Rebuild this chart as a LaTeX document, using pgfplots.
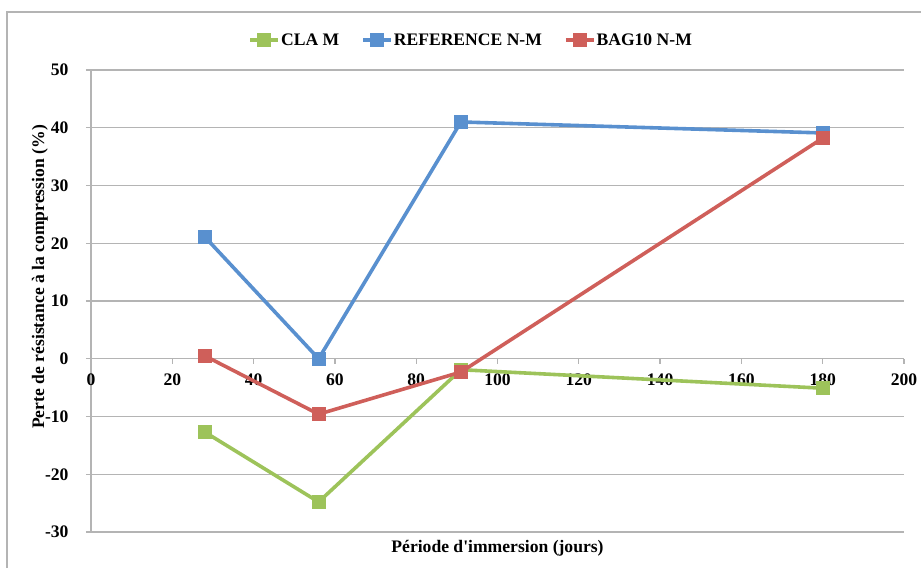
\documentclass[border=0pt]{standalone}
\usepackage{fontspec}
\setmainfont{Liberation Serif}
\usepackage{pgfplots}
\pgfplotsset{compat=1.18}
\definecolor{cgreen}{RGB}{157,195,90}
\definecolor{cblue}{RGB}{89,144,207}
\definecolor{cred}{RGB}{207,95,90}
\definecolor{gridgray}{RGB}{180,180,180}
\newcommand{\fnt}{\fontsize{17.6}{21}\selectfont\bfseries}
\begin{document}
\begin{tikzpicture}[x=1pt,y=1pt]
\useasboundingbox (0,0) rectangle (921,568);
\draw[color=gridgray, line width=1.3pt] (7,0) -- (7,556) -- (921,556);
\begin{axis}[at={(91pt,36pt)}, anchor=south west, scale only axis,
  width=813pt, height=462pt,
  xmin=0, xmax=200, ymin=-30, ymax=50,
  axis x line=middle, axis y line=left,
  axis line style={-, draw=gridgray, line width=1.3pt},
  hide obscured x ticks=false, hide obscured y ticks=false,
  xtick={0,20,...,200}, ytick={-30,-20,...,50},
  ymajorgrids, grid style={gridgray, line width=1.3pt},
  tick align=outside, major tick length=5pt,
  tick style={gridgray, line width=1.3pt},
  /pgf/number format/assume math mode=true,
  ticklabel style={font=\fnt},
  yticklabel style={xshift=-14pt},
  xticklabel style={yshift=-7pt},
  label style={font=\fnt},
  xlabel={Période d\textquotesingle immersion (jours)},
  ylabel={Perte de résistance à la compression (\%)},
  xlabel style={at={(axis description cs:0.5,-0.035)}, anchor=center},
  ylabel style={at={(axis description cs:-0.063,0.552)}, anchor=center},
  legend style={at={(axis description cs:0.467,1.065)}, anchor=center,
    draw=none, fill=none, font=\fnt, nodes={inner xsep=1pt},
    /tikz/every even column/.append style={column sep=21pt}},
  legend columns=3,
  legend image code/.code={\draw[mark repeat=2,mark phase=2,#1] plot coordinates {(0pt,0pt) (14pt,0pt) (28pt,0pt)};},
  every axis plot/.append style={line width=3.6pt, mark=square*, mark size=5.2pt, mark options={solid}},
]
\addplot[color=cgreen] coordinates {(28,-12.7) (56,-24.8) (91,-1.9) (180,-5.1)};
\addlegendentry{CLA M}
\addplot[color=cblue] coordinates {(28,21.1) (56,0) (91,41) (180,39.1)};
\addlegendentry{REFERENCE N-M}
\addplot[color=cred] coordinates {(28,0.5) (56,-9.6) (91,-2.3) (180,38.2)};
\addlegendentry{BAG10 N-M}
\end{axis}
\end{tikzpicture}
\end{document}
